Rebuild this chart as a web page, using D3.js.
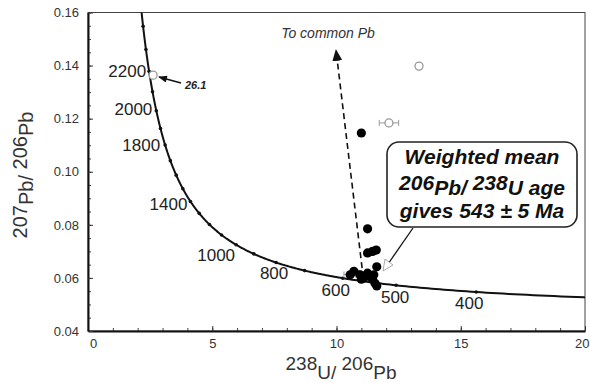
<!DOCTYPE html>
<html>
<head>
<meta charset="utf-8">
<script src="https://cdn.jsdelivr.net/npm/d3@7/dist/d3.min.js"></script>
<style>
  html, body { margin: 0; padding: 0; background: #fff; }
  svg { display: block; font-family: "Liberation Sans", Arial, sans-serif; }
</style>
</head>
<body>
<svg id="chart" width="590" height="383"></svg>
<script>
// ---- data ----
// filled (concordant) analyses, 238U/206Pb and 207Pb/206Pb
var filledX = [10.55, 10.7, 10.95, 11.1, 11.0, 11.25, 11.35, 11.45, 11.5, 11.55, 11.62, 11.62, 11.25, 11.45, 11.6, 11.25, 11.0];
var filledY = [0.0612, 0.0625, 0.0612, 0.0600, 0.0595, 0.0618, 0.0605, 0.0596, 0.0612, 0.0580, 0.0570, 0.0642, 0.0694, 0.0700, 0.0705, 0.0785, 0.1146];

// open (rejected) analyses with x error
var openX = [13.32, 12.11, 10.9, 2.62];
var openY = [0.1398, 0.1184, 0.0613, 0.1364];
var openXErr = [0.05, 0.39, 0.6, 0];

// concordia age ticks (Ma) and the labelled ones
var concordiaTicks = [300, 400, 500, 600, 700, 800, 900, 1000, 1100, 1200, 1300, 1400, 1500, 1600,
                      1700, 1800, 1900, 2000, 2100, 2200, 2300, 2400, 2500];
var concordiaLabels = [2200, 2000, 1800, 1400, 1000, 800, 600, 500, 400];

var xTicks = [0, 5, 10, 15, 20];
var yTicks = [0.04, 0.06, 0.08, 0.10, 0.12, 0.14, 0.16];

// decay constants for the Tera-Wasserburg concordia
var L238 = 1.55125e-10, L235 = 9.8485e-10, U85 = 137.88;
function tw(tMa) {
  var t = tMa * 1e6;
  var e8 = Math.exp(L238 * t) - 1, e5 = Math.exp(L235 * t) - 1;
  return [1 / e8, e5 / e8 / U85];
}

// label placement next to the concordia ticks (pixels)
var labelPos = {
  2200: {dx: -3, dy: 6, a: "end"},
  2000: {dx: -4, dy: 4, a: "end"},
  1800: {dx: -5, dy: 6, a: "end"},
  1400: {dx: -3, dy: 9, a: "end"},
  1000: {dx: -1, dy: 16, a: "end"},
  800:  {dx: -2, dy: 16, a: "middle"},
  600:  {dx: -7, dy: 18, a: "middle"},
  500:  {dx: -1, dy: 18, a: "middle"},
  400:  {dx: -7, dy: 17, a: "middle"}
};

var svg = d3.select("#chart");

var x = d3.scaleLinear().domain([0, 20]).range([88, 585]);
var y = d3.scaleLinear().domain([0.04, 0.16]).range([331, 12.5]);

svg.append("defs").append("clipPath").attr("id", "plotclip")
  .append("rect").attr("x", 88).attr("y", 12.5).attr("width", 497).attr("height", 318.5);

// frame top/right
svg.append("rect").attr("x", 88).attr("y", 12.5).attr("width", 497).attr("height", 318.5)
  .attr("fill", "none").attr("stroke", "#444").attr("stroke-width", 1);

// minor ticks
svg.append("g").attr("transform", "translate(0,331)")
  .call(d3.axisBottom(x).tickValues(d3.range(0, 21, 1)).tickSizeInner(-3).tickSizeOuter(0).tickFormat(""))
  .call(function(g) { g.select(".domain").remove(); g.selectAll("line").attr("stroke", "#444"); });
svg.append("g").attr("transform", "translate(88,0)")
  .call(d3.axisLeft(y).tickValues(d3.range(0.04, 0.1601, 0.005)).tickSizeInner(-3).tickSizeOuter(0).tickFormat(""))
  .call(function(g) { g.select(".domain").remove(); g.selectAll("line").attr("stroke", "#444"); });

// major axes
var xAxis = svg.append("g").attr("transform", "translate(0,331)")
  .call(d3.axisBottom(x).tickValues(xTicks).tickSizeInner(-5).tickSizeOuter(0).tickPadding(8).tickFormat(d3.format("d")));
var yAxis = svg.append("g").attr("transform", "translate(88,0)")
  .call(d3.axisLeft(y).tickValues(yTicks).tickSizeInner(-5).tickSizeOuter(0).tickPadding(9).tickFormat(d3.format(".2f")));
[xAxis, yAxis].forEach(function(g) {
  g.select(".domain").attr("stroke", "#111").attr("stroke-width", 2);
  g.selectAll(".tick line").attr("stroke", "#333");
  g.selectAll("text").attr("font-size", 13).attr("fill", "#333").attr("font-family", "Liberation Sans, Arial, sans-serif");
});
// first and last x labels sit a little inward, as in the figure
xAxis.selectAll(".tick text").filter(function(d) { return d === 0; }).attr("dx", 5);
xAxis.selectAll(".tick text").filter(function(d) { return d === 20; })
  .attr("text-anchor", "end").attr("x", 589 - x(20));

// axis titles
var xt = svg.append("text").attr("x", 341).attr("y", 379).attr("text-anchor", "middle")
  .attr("font-size", 19).attr("fill", "#333");
xt.append("tspan").attr("dy", -9).text("238");
xt.append("tspan").attr("dy", 9).text("U/ ");
xt.append("tspan").attr("dy", -9).text("206");
xt.append("tspan").attr("dy", 9).text("Pb");

var yt = svg.append("text").attr("transform", "translate(33,175) rotate(-90)").attr("text-anchor", "middle")
  .attr("font-size", 20).attr("fill", "#333");
yt.append("tspan").attr("dy", -6).text("207");
yt.append("tspan").attr("dy", 6).text("Pb/ ");
yt.append("tspan").attr("dy", -6).text("206");
yt.append("tspan").attr("dy", 6).text("Pb");

// concordia
var plot = svg.append("g").attr("clip-path", "url(#plotclip)");
var curveAges = d3.range(250, 2700, 5);
plot.append("path")
  .datum(curveAges.map(tw))
  .attr("fill", "none").attr("stroke", "#111").attr("stroke-width", 2)
  .attr("d", d3.line().x(function(d) { return x(d[0]); }).y(function(d) { return y(d[1]); }));
plot.selectAll(".ctick").data(concordiaTicks).join("circle")
  .attr("cx", function(d) { return x(tw(d)[0]); })
  .attr("cy", function(d) { return y(tw(d)[1]); })
  .attr("r", 1.8).attr("fill", "#111");
svg.selectAll(".clab").data(concordiaLabels).join("text")
  .attr("x", function(d) { return x(tw(d)[0]) + labelPos[d].dx; })
  .attr("y", function(d) { return y(tw(d)[1]) + labelPos[d].dy; })
  .attr("text-anchor", function(d) { return labelPos[d].a; })
  .attr("font-size", 17).attr("fill", "#222")
  .text(function(d) { return d; });

// open analyses with error bars
var openPts = openX.map(function(v, i) { return {x: v, y: openY[i], e: openXErr[i]}; });
var og = svg.append("g").attr("stroke", "#999").attr("stroke-width", 1).attr("fill", "#fff");
openPts.forEach(function(p) {
  if (p.e > 0) {
    og.append("line").attr("x1", x(p.x - p.e)).attr("x2", x(p.x + p.e)).attr("y1", y(p.y)).attr("y2", y(p.y));
    og.append("line").attr("x1", x(p.x - p.e)).attr("x2", x(p.x - p.e)).attr("y1", y(p.y) - 3).attr("y2", y(p.y) + 3);
    og.append("line").attr("x1", x(p.x + p.e)).attr("x2", x(p.x + p.e)).attr("y1", y(p.y) - 3).attr("y2", y(p.y) + 3);
  }
  og.append("circle").attr("cx", x(p.x)).attr("cy", y(p.y)).attr("r", 4).attr("stroke-width", 1.3);
});

// common Pb arrow
var arrFrom = [11.03, 0.0637], arrTo = [9.98, 0.1459];
svg.append("defs").append("marker").attr("id", "solidhead")
  .attr("viewBox", "0 0 12 10").attr("refX", 11).attr("refY", 5)
  .attr("markerWidth", 12).attr("markerHeight", 10).attr("markerUnits", "userSpaceOnUse")
  .attr("orient", "auto")
  .append("path").attr("d", "M0,0 L12,5 L0,10 Z").attr("fill", "#111");
svg.append("line")
  .attr("x1", x(arrFrom[0])).attr("y1", y(arrFrom[1]))
  .attr("x2", x(arrTo[0])).attr("y2", y(arrTo[1]))
  .attr("stroke", "#111").attr("stroke-width", 1.6).attr("stroke-dasharray", "6,4")
  .attr("marker-end", "url(#solidhead)");
svg.append("text").attr("x", 328).attr("y", 38).attr("text-anchor", "middle")
  .attr("font-size", 14).attr("font-style", "italic").attr("fill", "#333").text("To common Pb");

// filled analyses
svg.append("g").selectAll("circle")
  .data(filledX.map(function(v, i) { return [v, filledY[i]]; }))
  .join("circle")
  .attr("cx", function(d) { return x(d[0]); })
  .attr("cy", function(d) { return y(d[1]); })
  .attr("r", 4.6).attr("fill", "#000");

// 26.1 pointer
svg.append("defs").append("marker").attr("id", "smallhead")
  .attr("viewBox", "0 0 10 8").attr("refX", 9).attr("refY", 4)
  .attr("markerWidth", 10).attr("markerHeight", 7).attr("markerUnits", "userSpaceOnUse")
  .attr("orient", "auto")
  .append("path").attr("d", "M0,0 L10,4 L0,8 Z").attr("fill", "#111");
svg.append("line").attr("x1", 181).attr("y1", 83).attr("x2", 159).attr("y2", 77)
  .attr("stroke", "#111").attr("stroke-width", 1.5).attr("marker-end", "url(#smallhead)");
svg.append("text").attr("x", 185).attr("y", 89).attr("font-size", 11)
  .attr("font-weight", "bold").attr("font-style", "italic").attr("fill", "#222").text("26.1");

// callout box
svg.append("line").attr("x1", 413).attr("y1", 228).attr("x2", 388).attr("y2", 264)
  .attr("stroke", "#111").attr("stroke-width", 1.3);
svg.append("path").attr("d", "M383,271 L385,259 L393,265 Z")
  .attr("fill", "#fff").attr("stroke", "#aaa").attr("stroke-width", 1);
svg.append("rect").attr("x", 387).attr("y", 142).attr("width", 190).attr("height", 85)
  .attr("rx", 12).attr("fill", "#fff").attr("stroke", "#222").attr("stroke-width", 1.6);
var bt = svg.append("g").attr("font-size", 21).attr("font-weight", "bold").attr("font-style", "italic")
  .attr("fill", "#111").attr("text-anchor", "middle");
bt.append("text").attr("x", 482).attr("y", 164).text("Weighted mean");
var l2 = bt.append("text").attr("x", 482).attr("y", 195);
l2.append("tspan").attr("dy", -5).text("206");
l2.append("tspan").attr("dy", 5).text("Pb/ ");
l2.append("tspan").attr("dy", -5).text("238");
l2.append("tspan").attr("dy", 5).text("U age");
bt.append("text").attr("x", 482).attr("y", 218).text("gives 543 \u00b1 5 Ma");
</script>
</body>
</html>
